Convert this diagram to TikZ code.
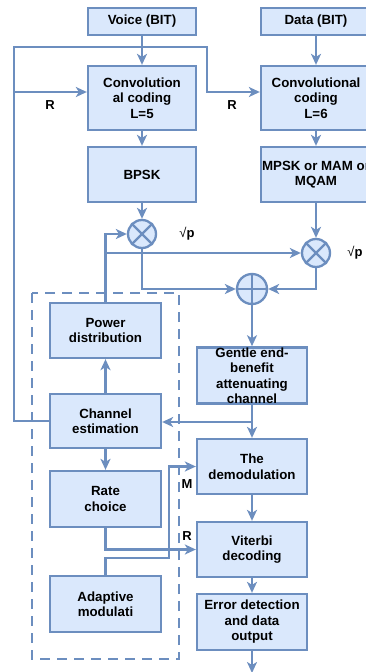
\documentclass[tikz,border=0pt]{standalone}
\usepackage{fontspec}
\setmainfont{Liberation Sans}
\usetikzlibrary{arrows.meta,calc}
\definecolor{bfill}{HTML}{DAE8FC}
\definecolor{bline}{HTML}{6C8EBF}
\tikzset{
  blk/.style={draw=bline, fill=bfill, line width=2.3pt, minimum width=#1, inner sep=0pt, align=center,
    font=\fontsize{13.3}{15.5}\selectfont\bfseries},
  blk/.default=108pt,
  op/.style={circle, draw=bline, fill=bfill, line width=2.3pt, minimum size=28pt, inner sep=0pt},
  con/.style={draw=bline, line width=2.3pt},
  arr/.style={con, -{Stealth[length=11pt,width=10pt,inset=3pt]}},
  lbl/.style={font=\fontsize{13}{15}\selectfont\bfseries},
}
\begin{document}
\begin{tikzpicture}[x=1pt,y=-1pt]
\useasboundingbox (0,0) rectangle (366,672);
\clip (0,0) rectangle (366,672);
% dashed group
\draw[draw=bline, line width=2.2pt, dash pattern=on 10pt off 7pt] (32,293) rectangle (179,659);
% blocks
\node[blk=108pt, minimum height=27pt] (voice) at (142,21.5) {Voice (BIT)};
\node[blk=110pt, minimum height=27pt] (data) at (316,21.5) {Data (BIT)};
\node[blk=108pt, minimum height=64pt] (conv1) at (142,98) {Convolution\\al coding\\L=5};
\node[blk=110pt, minimum height=64pt] (conv2) at (316,98) {Convolutional\\coding\\L=6};
\node[blk=108pt, minimum height=55pt] (bpsk) at (142,174.5) {BPSK};
\node[blk=110pt, minimum height=55pt] (mpsk) at (316,174.5) {MPSK or MAM or\\MQAM};
\node[op] (m1) at (142,234) {};
\node[op] (m2) at (316,253) {};
\node[op, minimum size=30pt] (add) at (252,289) {};
\draw[con] (m1.north west) -- (m1.south east) (m1.north east) -- (m1.south west);
\draw[con] (m2.north west) -- (m2.south east) (m2.north east) -- (m2.south west);
\draw[con] (add.north) -- (add.south) (add.west) -- (add.east);
\node[blk=111pt, minimum height=55pt] (power) at (105.5,330.5) {Power\\distribution};
\node[blk=111pt, minimum height=54pt] (chan) at (105.5,421) {Channel\\estimation};
\node[blk=111pt, minimum height=56pt] (rate) at (105.5,499) {Rate\\choice};
\node[blk=111pt, minimum height=56pt] (adapt) at (105.5,604) {Adaptive\\modulati};
\node[blk=110pt, minimum height=55pt] (gentle) at (252,375.5) {Gentle end-\\benefit\\attenuating\\channel};
\node[blk=110pt, minimum height=55pt] (demod) at (252,466.5) {The\\demodulation};
\node[blk=110pt, minimum height=55pt] (vit) at (252,549.5) {Viterbi\\decoding};
\node[blk=110pt, minimum height=56pt] (err) at (252,622) {Error detection\\and data\\output};
\coordinate (out) at (252,673);
% labels
\node[lbl] (r1) at (50,105) {R};
\node[lbl] (r2) at (232,105) {R};
\node[lbl] (sp1) at (187,234) {{\mdseries √}p};
\node[lbl] (sp2) at (355,253) {{\mdseries √}p};
\node[lbl] (lm) at (187,484) {M};
\node[lbl] (lr) at (187,536) {R};
% connectors
\draw[arr] (voice) -- (conv1);
\draw[arr] (data) -- (conv2);
\draw[arr] (chan.west) -- (14,421) -- (14,47) -- (207,47) -- (207,92) -- (conv2.west |- 0,92);
\draw[arr] (14,92) -- (conv1.west |- 0,92);
\draw[arr] (conv1) -- (bpsk);
\draw[arr] (conv2) -- (mpsk);
\draw[arr] (bpsk) -- (m1);
\draw[arr] (mpsk) -- (m2);
\draw[arr] (m1.south) |- (add.west);
\draw[arr] (m2.south) |- (add.east);
\draw[arr] (power.north) |- (m1.west);
\draw[arr] (105.5,253) -- (m2.west);
\draw[arr] (add) -- (gentle);
\draw[arr] (gentle.south) -- (252,422) -- (chan.east |- 0,422);
\draw[arr] (252,420) -- (demod.north);
\draw[arr] (chan) -- (power);
\draw[arr] (chan) -- (rate);
\draw[arr] (rate.south) |- (vit.west);
\draw[arr] (adapt.north) -- (105.5,558) -- (169,558) |- (demod.west);
\draw[arr] (demod) -- (vit);
\draw[arr] (vit) -- (err);
\draw[arr] (err) -- (out);
\end{tikzpicture}
\end{document}
